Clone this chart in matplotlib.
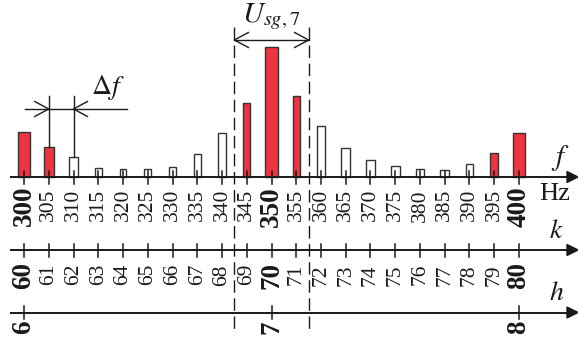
import matplotlib
matplotlib.use('Agg')
import matplotlib.pyplot as plt
from matplotlib.patches import Polygon

plt.rcParams['font.family'] = ['Liberation Serif', 'DejaVu Serif']
plt.rcParams['mathtext.fontset'] = 'stix'

# ---- data ----
freqs = [300, 305, 310, 315, 320, 325, 330, 335, 340, 345, 350,
         355, 360, 365, 370, 375, 380, 385, 390, 395, 400]
amps = [44.7, 30, 20, 9.3, 8.3, 8, 9.7, 23.3, 44, 74, 130.3,
        81.3, 51.3, 29.3, 16.7, 11.3, 8, 7, 13.3, 23.7, 44]
is_red = [1, 1, 0, 0, 0, 0, 0, 0, 0, 1, 1,
          1, 0, 0, 0, 0, 0, 0, 0, 1, 1]
widths = [2.6, 2.0, 2.0, 1.5, 1.4, 1.5, 1.5, 1.4, 1.5, 1.5, 2.6,
          1.5, 1.6, 1.75, 1.7, 1.8, 1.6, 1.8, 1.6, 1.7, 2.6]
f_labels = [str(f) for f in freqs]
k_vals = [60, 61, 62, 63, 64, 65, 66, 67, 68, 69, 70,
          71, 72, 73, 74, 75, 76, 77, 78, 79, 80]
h_vals = [6, 7, 8]
bold_f = [300, 350, 400]
bold_k = [60, 70, 80]
band = (342.5, 357.5)

RED = '#ef3340'
EDGE = '#333333'
INK = '#1a1a1a'

W, H = 578, 340
fig = plt.figure(figsize=(W / 100, H / 100), dpi=100)
ax = fig.add_axes([0, 0, 1, 1])
ax.axis('off')

px_per_hz = 4.95
x_left = 300 - 24 / px_per_hz
ax.set_xlim(x_left, x_left + W / px_per_hz)
base_px = 177
ax.set_ylim(-(H - base_px), base_px)

def hz(px):
    return x_left + px / px_per_hz

def yy(py):
    return base_px - py

# bars
colors = [RED if r else 'white' for r in is_red]
ax.bar(freqs, amps, width=widths, bottom=0, color=colors,
       edgecolor=EDGE, linewidth=1.0, zorder=2)

# axes lines with filled arrowheads
y_k = yy(250)
y_h = yy(312.5)
x0 = hz(10)
xt = hz(578)
alen = 11 / px_per_hz
for yl in (0, y_k, y_h):
    ax.plot([x0, xt - alen], [yl, yl], color=INK, lw=1.4, zorder=3,
            solid_capstyle='butt')
    ax.add_patch(Polygon([[xt, yl], [xt - alen, yl + 5.5], [xt - alen, yl - 5.5]],
                         closed=True, color=INK, zorder=3))

# ticks and labels
tk = 6.5
FS = 15.5
FSB = 19.5
for f, lab in zip(freqs, f_labels):
    b = f in bold_f
    ax.plot([f, f], [-tk, tk], color=INK, lw=1.1, zorder=3)
    ax.text(f, -9 if b else -12, lab, rotation=90, ha='center', va='top',
            fontsize=FSB if b else FS, fontweight='bold' if b else 'normal',
            color=INK)
for k in k_vals:
    b = k in bold_k
    xk = k * 5
    ax.plot([xk, xk], [y_k - tk, y_k + tk], color=INK, lw=1.1, zorder=3)
    ax.text(xk, y_k - (12 if b else 14), str(k), rotation=90, ha='center',
            va='top', fontsize=FSB if b else FS,
            fontweight='bold' if b else 'normal', color=INK)
for h in h_vals:
    xh = h * 50
    ax.plot([xh, xh], [y_h - tk, y_h + tk], color=INK, lw=1.1, zorder=3)
    ax.text(xh, y_h - 8, str(h), rotation=90, ha='center', va='top',
            fontsize=FSB, fontweight='bold', color=INK)

# axis names
ax.text(hz(560), yy(158), '$f$', fontsize=21, ha='center', va='center', color=INK)
ax.text(hz(555), yy(194), 'Hz', fontsize=19, ha='center', va='center', color=INK)
ax.text(hz(556), yy(231), '$k$', fontsize=20, ha='center', va='center', color=INK)
ax.text(hz(557), yy(294), '$h$', fontsize=20, ha='center', va='center', color=INK)

# dashed band lines
for xb in band:
    ax.plot([xb, xb], [yy(27), yy(333)], color=INK, lw=1.0,
            dashes=(9, 4), zorder=1)

# open arrowhead helper
def open_head(xtip, ytip, direction):
    L = 14 / px_per_hz
    hw = 7.5
    xb = xtip - direction * L
    ax.plot([xb, xtip, xb], [ytip + hw, ytip, ytip - hw], color=INK, lw=1.0,
            zorder=3)

# U_sg,7 dimension arrow
yu = yy(40)
ax.plot([band[0], band[1]], [yu, yu], color=INK, lw=1.0, zorder=3)
open_head(band[0], yu, -1)
open_head(band[1], yu, +1)
ax.text((band[0] + band[1]) / 2, yy(17), r'$U_{sg,7}$', fontsize=21,
        ha='center', va='center', color=INK)

# delta f dimension
yd = yy(109)
for f, a in zip(freqs[1:3], amps[1:3]):
    ax.plot([f, f], [yy(96), a], color=INK, lw=1.0, zorder=3)
ax.plot([hz(25), hz(127)], [yd, yd], color=INK, lw=1.0, zorder=3)
open_head(freqs[1], yd, +1)
open_head(freqs[2], yd, -1)
ax.text(hz(108), yy(88), r'$\Delta f$', fontsize=20, ha='center',
        va='center', color=INK)

fig.savefig('out.png', dpi=100)
